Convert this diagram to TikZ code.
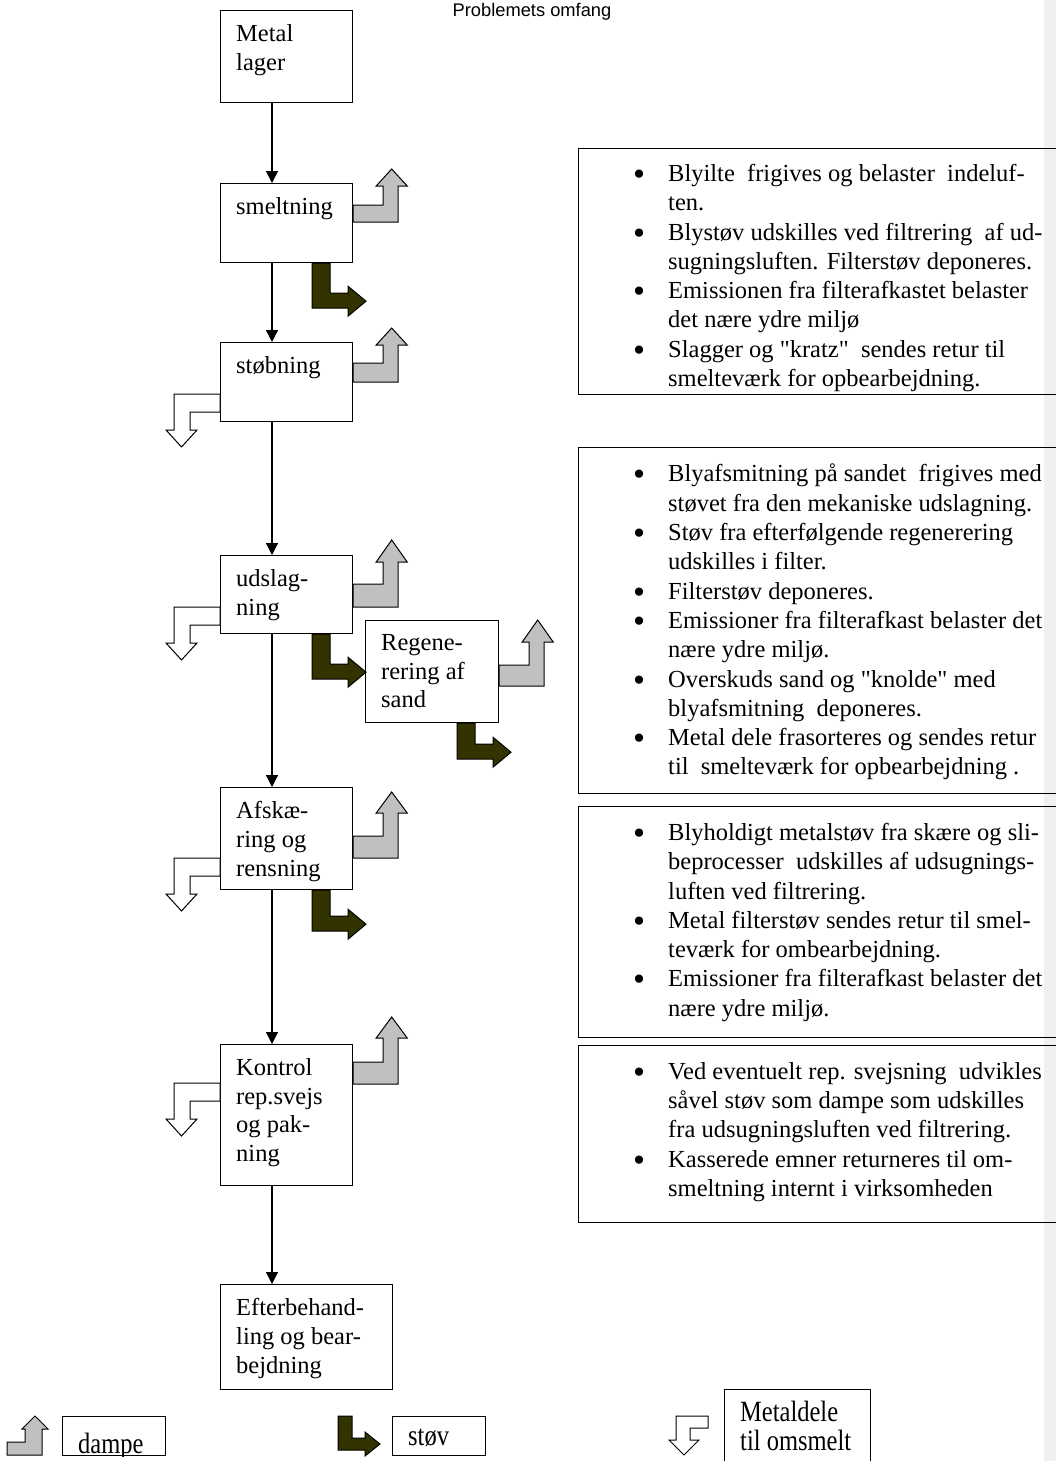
\documentclass[tikz,border=0pt]{standalone}
\usepackage{fontspec}
\usepackage{graphicx}
\setmainfont{Liberation Serif}
\newfontfamily\headfont{Liberation Sans}
\usetikzlibrary{arrows.meta,positioning,calc}
\definecolor{DampGray}{HTML}{C0C0C0}
\definecolor{DustOlive}{HTML}{333300}
\definecolor{SideBar}{HTML}{F0F0F0}
\newcommand{\bodysize}{\fontsize{24.5}{29.3}\selectfont}
\newcommand{\bul}{\makebox[35pt][l]{\raisebox{-4pt}{\scalebox{1.4}{\textbullet}}}}
\newcommand{\ind}{\makebox[35pt]{}}
\newcommand{\tall}[1]{\scalebox{1}[1.2]{#1}}
\tikzset{
  figtitle/.style={font=\headfont\fontsize{18.3}{22}\selectfont, inner sep=0pt},
  procbox/.style={draw=black, fill=white, line width=1.2pt, inner sep=0pt,
                  anchor=north west},
  boxtext/.style={font=\fontsize{24.5}{28.6}\selectfont, align=left,
                  inner sep=0pt},
  infobox/.style={draw=black, line width=1.2pt, inner sep=0pt, anchor=north west},
  infotext/.style={font=\bodysize, align=left, inner sep=0pt},
  flow/.style={-{Triangle[length=12pt,width=12pt]}, line width=1.2pt, black},
  dampe/.style={draw=black, fill=DampGray, line width=1pt},
  dustarrow/.style={draw=black, fill=DustOlive, line width=1pt},
  metalret/.style={draw=black, fill=white, line width=1pt},
}
% bent arrows: node, shaft top, shaft bottom, head base, tip (pt below the corner)
\newcommand{\dampeout}[5]{%
  \filldraw[dampe, shift={(#1.north east)}] (0,#2) -- (30,#2) -- (30,#4)
    -- (23,#4) -- (38.5,#5) -- (54,#4) -- (45,#4) -- (45,#3) -- (0,#3) -- cycle;}
\newcommand{\metalout}[2]{%
  \filldraw[metalret, shift={(#1.north west)}] (0,#2) -- (-46,#2)
    -- (-46,{#2+36}) -- (-54,{#2+36}) -- (-38.5,{#2+53}) -- (-23,{#2+36})
    -- (-30,{#2+36}) -- (-30,{#2+18}) -- (0,{#2+18}) -- cycle;}
\newcommand{\stovout}[2]{%
  \filldraw[dustarrow, shift={(#1.south west)}] (92,0) -- (110,0)
    -- (110,{#2-15}) -- (128,{#2-15}) -- (128,{#2-22}) -- (146,{#2-7})
    -- (128,{#2+8}) -- (128,#2) -- (92,#2) -- cycle;}

\begin{document}
\begin{tikzpicture}[x=1pt, y=-1pt]
  \useasboundingbox (0,0) rectangle (1056,1461);
  \fill[SideBar] (1044,0) rectangle (1056,1461);

  \node[figtitle, anchor=base] (title) at (532,17) {Problemets omfang};

  % process chain
  \node[procbox, minimum width=132pt, minimum height=92pt] (metal) at (220,10) {};
  \node[procbox, minimum width=132pt, minimum height=79pt] (smelt) at (220,183) {};
  \node[procbox, minimum width=132pt, minimum height=79pt] (stob) at (220,342) {};
  \node[procbox, minimum width=132pt, minimum height=78pt] (udslag) at (220,555) {};
  \node[procbox, minimum width=133pt, minimum height=102pt] (regen) at (365,620) {};
  \node[procbox, minimum width=132pt, minimum height=102pt] (afsk) at (220,787) {};
  \node[procbox, minimum width=132pt, minimum height=141pt] (kontrol) at (220,1044) {};
  \node[procbox, minimum width=172pt, minimum height=105pt] (efter) at (220,1284) {};

  \node[boxtext, below right=14.5pt and 16pt of metal.north west] {Metal\\lager};
  \node[boxtext, below right=14.5pt and 16pt of smelt.north west] {smeltning};
  \node[boxtext, below right=14.5pt and 16pt of stob.north west] {støbning};
  \node[boxtext, below right=14.5pt and 16pt of udslag.north west] {udslag-\\ning};
  \node[boxtext, below right=14.5pt and 16pt of regen.north west] {Regene-\\rering af\\sand};
  \node[boxtext, below right=14.5pt and 16pt of afsk.north west] {Afskæ-\\ring og\\rensning};
  \node[boxtext, below right=14.5pt and 16pt of kontrol.north west] {Kontrol\\rep.svejs\\og pak-\\ning};
  \node[boxtext, below right=14.5pt and 16pt of efter.north west] {Efterbehand-\\ling og bear-\\bejdning};

  \coordinate (spine) at (272,0);
  \draw[flow] (metal.south -| spine) -- (smelt.north -| spine);
  \draw[flow] (smelt.south -| spine) -- (stob.north -| spine);
  \draw[flow] (stob.south -| spine) -- (udslag.north -| spine);
  \draw[flow] (udslag.south -| spine) -- (afsk.north -| spine);
  \draw[flow] (afsk.south -| spine) -- (kontrol.north -| spine);
  \draw[flow] (kontrol.south -| spine) -- (efter.north -| spine);

  % dampe / stov / metal return
  \dampeout{smelt}{22}{39}{3}{-14}
  \dampeout{stob}{21}{40}{3}{-14}
  \dampeout{udslag}{29}{52}{7}{-15}
  \dampeout{regen}{45}{66}{22}{0}
  \dampeout{afsk}{49}{71}{26}{5}
  \dampeout{kontrol}{18}{40}{-6}{-27}

  \stovout{smelt}{45}
  \stovout{udslag}{45}
  \stovout{regen}{36}
  \stovout{afsk}{41}

  \metalout{stob}{52}
  \metalout{udslag}{52}
  \metalout{afsk}{71}
  \metalout{kontrol}{39}

  % notes on the right
  \node[infobox, minimum width=484pt, minimum height=246pt] (info1) at (578,148) {};
  \node[infobox, minimum width=484pt, minimum height=346pt] (info2) at (578,447) {};
  \node[infobox, minimum width=484pt, minimum height=231pt] (info3) at (578,806) {};
  \node[infobox, minimum width=484pt, minimum height=177pt] (info4) at (578,1045) {};

  \node[infotext, below right=16pt and 55pt of info1.north west] {%
    \bul Blyilte~ frigives og belaster~ indeluf-\\
    \ind ten.\\
    \bul Blystøv udskilles ved filtrering~ af ud-\\
    \ind sugningsluften. Filterstøv deponeres.\\
    \bul Emissionen fra filterafkastet belaster\\
    \ind det nære ydre miljø\\
    \bul Slagger og \textquotedbl kratz\textquotedbl~ sendes retur til\\
    \ind smelteværk for opbearbejdning.};
  \node[infotext, below right=17pt and 55pt of info2.north west] {%
    \bul Blyafsmitning på sandet~ frigives med\\
    \ind støvet fra den mekaniske udslagning.\\
    \bul Støv fra efterfølgende regenerering\\
    \ind udskilles i filter.\\
    \bul Filterstøv deponeres.\\
    \bul Emissioner fra filterafkast belaster det\\
    \ind nære ydre miljø.\\
    \bul Overskuds sand og \textquotedbl knolde\textquotedbl{} med\\
    \ind blyafsmitning~ deponeres.\\
    \bul Metal dele frasorteres og sendes retur\\
    \ind til~ smelteværk for opbearbejdning .};
  \node[infotext, below right=17pt and 55pt of info3.north west] {%
    \bul Blyholdigt metalstøv fra skære og sli-\\
    \ind beprocesser~ udskilles af udsugnings-\\
    \ind luften ved filtrering.\\
    \bul Metal filterstøv sendes retur til smel-\\
    \ind teværk for ombearbejdning.\\
    \bul Emissioner fra filterafkast belaster det\\
    \ind nære ydre miljø.};
  \node[infotext, below right=17pt and 55pt of info4.north west] {%
    \bul Ved eventuelt rep. svejsning~ udvikles\\
    \ind såvel støv som dampe som udskilles\\
    \ind fra udsugningsluften ved filtrering.\\
    \bul Kasserede emner returneres til om-\\
    \ind smeltning internt i virksomheden};

  % legend
  \filldraw[dampe] (7,1442) -- (25,1442) -- (25,1429) -- (22,1429) -- (35,1416)
    -- (48,1429) -- (42,1429) -- (42,1455) -- (7,1455) -- cycle;
  \node[procbox, minimum width=103pt, minimum height=39pt] (legdampe) at (62,1416) {};
  \begin{scope}
    \clip (legdampe.north west) rectangle (legdampe.south east);
    \node[boxtext, anchor=base west] at (78,1453) {\tall{dampe}};
  \end{scope}

  \filldraw[dustarrow] (338,1416) -- (352,1416) -- (352,1438) -- (365,1438)
    -- (365,1432) -- (380,1444) -- (365,1456) -- (365,1450) -- (338,1450) -- cycle;
  \node[procbox, minimum width=93pt, minimum height=39pt] (legstov) at (392,1416) {};
  \node[boxtext, anchor=base west] at (408,1445) {\tall{støv}};

  \filldraw[metalret] (708,1416) -- (676,1416) -- (676,1440) -- (669,1440)
    -- (684,1455) -- (699,1440) -- (690,1440) -- (690,1428) -- (708,1428) -- cycle;
  \node[procbox, minimum width=146pt, minimum height=90pt] (legmetal) at (724,1389) {};
  \node[boxtext, below right=12pt and 16pt of legmetal.north west]
    {\tall{Metaldele}\\\tall{til omsmelt}};
\end{tikzpicture}
\end{document}
